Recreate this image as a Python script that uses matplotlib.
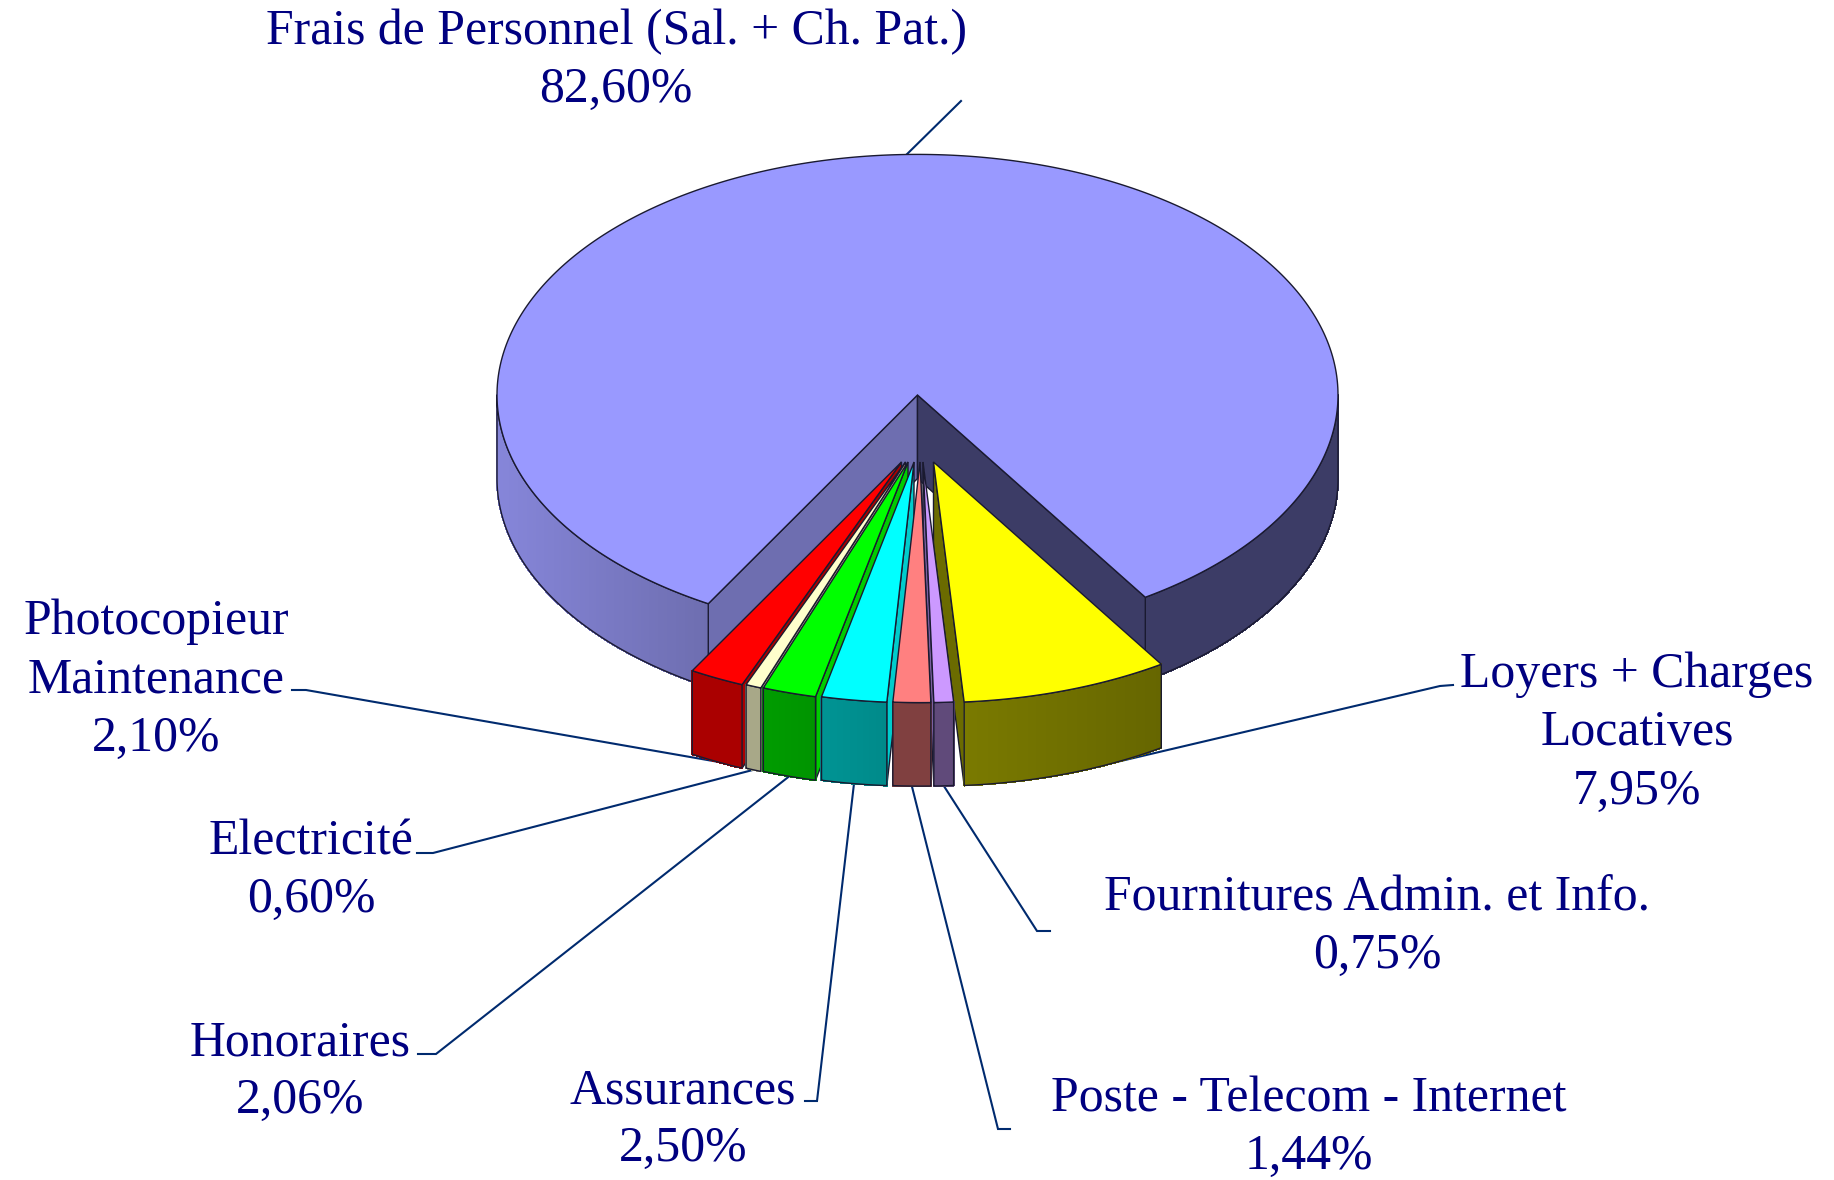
import numpy as np
import matplotlib
matplotlib.use("Agg")
import matplotlib.pyplot as plt
from matplotlib.collections import PolyCollection
from matplotlib.patches import Polygon

# data
noms = ["Frais de Personnel (Sal. + Ch. Pat.)", "Loyers + Charges\nLocatives",
        "Fournitures Admin. et Info.", "Poste - Telecom - Internet", "Assurances",
        "Honoraires", "Electricité", "Photocopieur\nMaintenance"]
valeurs = [82.60, 7.95, 0.75, 1.44, 2.50, 2.06, 0.60, 2.10]

# style
haut = ["#9999ff", "#ffff00", "#cc99ff", "#ff8080", "#00ffff", "#00ff00", "#ffffcc", "#ff0000"]
mur_g = ["#8686da", "#7a7a00", "#604a7a", "#804040", "#009494", "#009c00", "#a8a888", "#aa0000"]
mur_d = ["#3c3c66", "#666600", "#604a7a", "#804040", "#008a8a", "#009400", "#a8a888", "#aa0000"]
face = ["#6e6eb0", "#6b6b00", "#7a5fa0", "#804040", "#00cccc", "#00cc00", "#a8a888", "#aa0000"]
# decalage horizontal de chaque part (pas de decalage pour la grande part)
decal_x = [0, 16, 5.5, 2.5, -3.5, -9.5, -12, -16]
decal_y = 67
# label: centre du texte, debut du trait, coude du trait
label_pos = [(616, 61), (1637, 733), (1377, 927), (1309, 1128), (683, 1120),
             (300, 1072), (311, 871), (156, 680)]
trait_pos = [None, (1453, 685), (1050, 931), (1010, 1129), (805, 1101),
             (418, 1054), (417, 853), (292, 690)]
coude_pos = [(961, 101), (1440, 686), (1037, 931), (998, 1129), (817, 1101),
             (436, 1054), (433, 853), (306, 690)]
ordre = [7, 6, 5, 4, 1, 2, 3]

bleu = "#000080"
trait = "#002a6e"
bord = "#1a1a30"

cx, cy = 917.5, 395
rx, ry = 420.5, 240.6
prof = 83.5
depart = 32.8   # angle depuis le bas, sens horaire a l'ecran vers la gauche

plt.rcParams["font.family"] = ["Liberation Serif", "DejaVu Serif"]
fig = plt.figure(figsize=(18.34, 11.80), dpi=100)
ax = fig.add_axes([0, 0, 1, 1])
ax.set_xlim(0, 1834)
ax.set_ylim(1180, 0)
ax.axis("off")


def pt(x0, y0, phi):
    a = np.radians(phi)
    return x0 + rx * np.sin(a), y0 + ry * np.cos(a)


def arc(x0, y0, p1, p2, n=120):
    x, y = pt(x0, y0, np.linspace(p1, p2, n))
    return np.column_stack([x, y])


def mur(x0, y0, p1, p2, col1, col2):
    # mur exterieur avec un degrade de gauche a droite
    a = arc(x0, y0, p1, p2)
    xmin, xmax = a[:, 0].min(), a[:, 0].max()
    c1 = np.array(matplotlib.colors.to_rgb(col1))
    c2 = np.array(matplotlib.colors.to_rgb(col2))
    quads, cols = [], []
    for i in range(len(a) - 1):
        p, q = a[i], a[i + 1]
        quads.append([p, q, q + [0, prof], p + [0, prof]])
        t = ((p[0] + q[0]) / 2 - xmin) / max(xmax - xmin, 1)
        cols.append(c1 + (c2 - c1) * t)
    ax.add_collection(PolyCollection(quads, facecolors=cols, edgecolors=cols,
                                     linewidths=0.8, antialiaseds=False))
    contour = np.vstack([a, a[::-1] + [0, prof]])
    ax.add_patch(Polygon(contour, closed=True, fill=False, ec=bord, lw=1.0))


def poly(points, col):
    ax.add_patch(Polygon(points, closed=True, fc=col, ec=bord, lw=1.0))


def part(i, p1, p2):
    # p1 > p2 : une part detachee, faces laterales puis mur puis dessus
    x0 = cx + decal_x[i]
    y0 = cy + decal_y
    sommet = np.array([x0, y0])
    a = np.array(pt(x0, y0, p1))
    b = np.array(pt(x0, y0, p2))
    bas = np.array([0, prof])
    if (p1 + p2) / 2 > 0:
        poly([sommet, b, b + bas, sommet + bas], face[i])
    else:
        poly([sommet, a, a + bas, sommet + bas], face[i])
    mur(x0, y0, p2, p1, mur_g[i], mur_d[i])
    poly(np.vstack([[sommet], arc(x0, y0, p2, p1)]), haut[i])


# angles de chaque part a partir des valeurs
angles = [v * 3.6 for v in valeurs]
debuts = [depart + angles[0]]
fins = [depart]
p = depart
for d in angles[1:]:
    debuts.append(p)
    fins.append(p - d)
    p -= d

# traits de rappel, sous le camembert
for i in range(len(noms)):
    milieu = (debuts[i] + fins[i]) / 2
    if i == 0:
        xa, ya = pt(cx, cy, milieu)
        xs = [xa, coude_pos[0][0]]
        ys = [ya, coude_pos[0][1]]
    else:
        xa, ya = pt(cx + decal_x[i], cy + decal_y + prof, milieu)
        xs = [xa, coude_pos[i][0], trait_pos[i][0]]
        ys = [ya, coude_pos[i][1], trait_pos[i][1]]
    ax.plot(xs, ys, color=trait, lw=1.5, solid_joinstyle="miter", zorder=0.5)

# grande part
centre = np.array([cx, cy])
gauche = debuts[0] - 360
g = np.array(pt(cx, cy, gauche))
d = np.array(pt(cx, cy, fins[0]))
bas = np.array([0, prof])
poly([centre, g, g + bas, centre + bas], face[0])
poly([centre, d, d + bas, centre + bas], mur_d[0])
mur(cx, cy, -90, gauche, mur_g[0], face[0])
mur(cx, cy, fins[0], 90, mur_d[0], mur_d[0])
poly(np.vstack([[centre], arc(cx, cy, fins[0], debuts[0], 400)]), haut[0])

# petites parts
for i in ordre:
    part(i, debuts[i], fins[i])

# labels
for i in range(len(noms)):
    txt = noms[i] + "\n" + f"{valeurs[i]:.2f}".replace(".", ",") + "%"
    ax.text(label_pos[i][0], label_pos[i][1], txt, color=bleu, fontsize=35.8,
            ha="center", va="center", linespacing=1.33, zorder=5)

fig.savefig("out.png", dpi=100, facecolor="white")
